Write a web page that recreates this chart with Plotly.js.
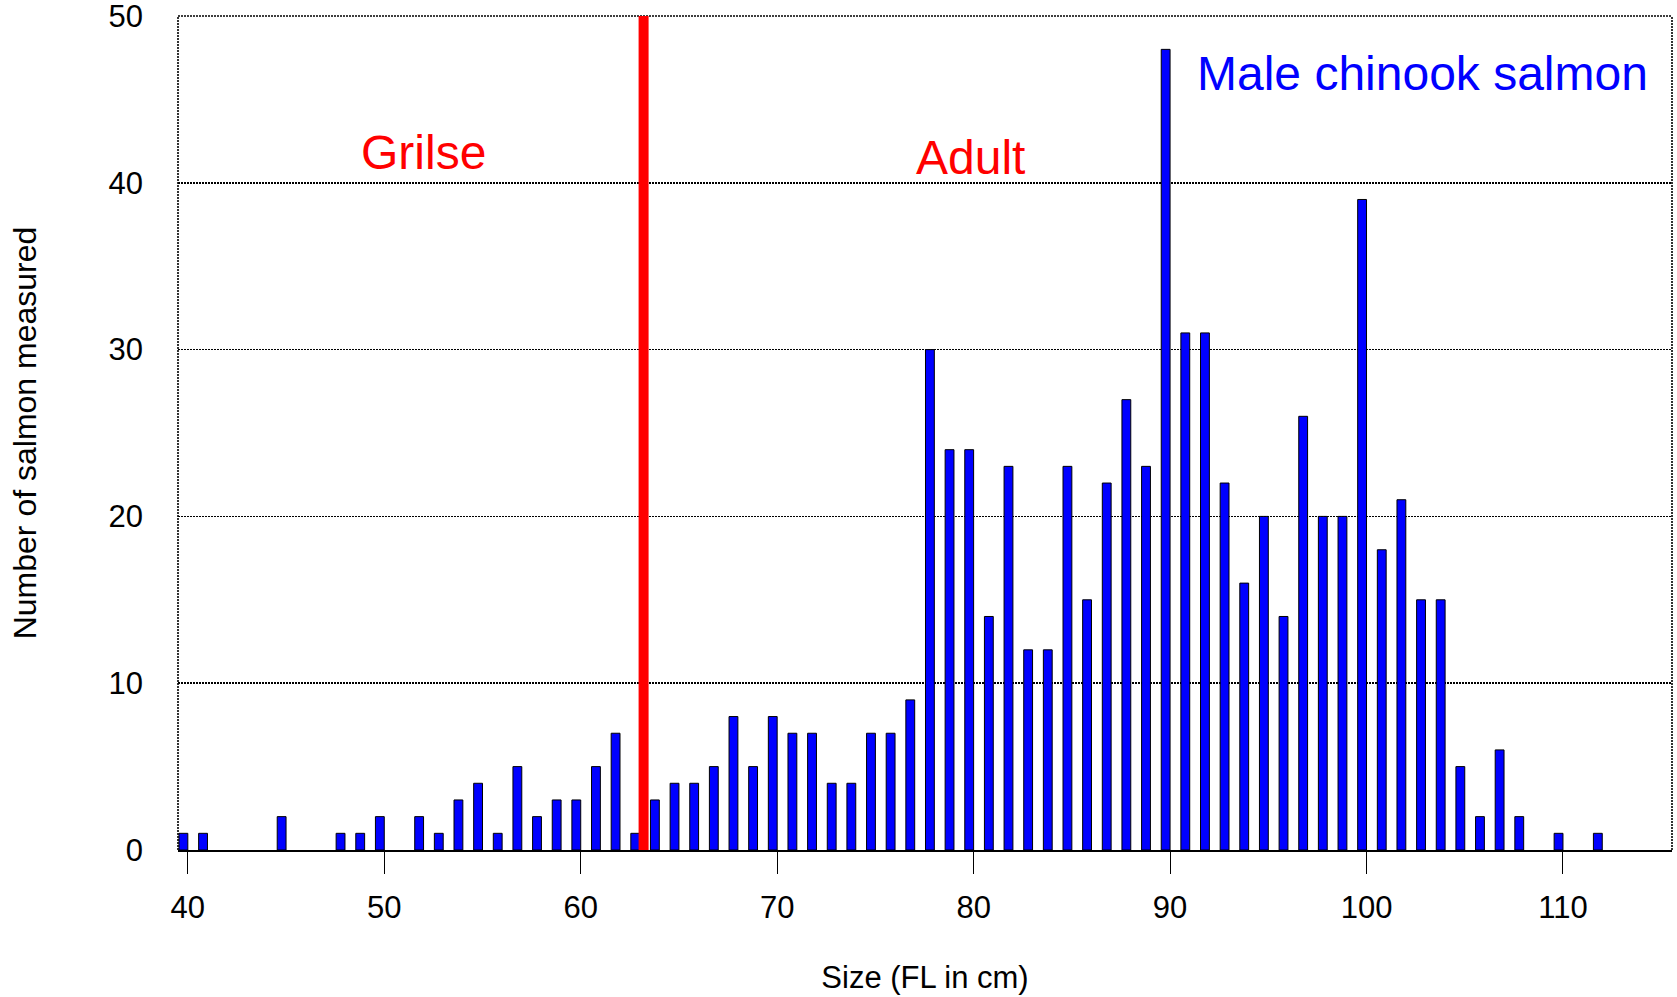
<!DOCTYPE html>
<html>
<head>
<meta charset="utf-8">
<script src="https://cdn.plot.ly/plotly-3.0.1.min.js"></script>
<style>
  html, body { margin: 0; padding: 0; background: #ffffff; }
  #chart { width: 1677px; height: 997px; }
</style>
</head>
<body>
<div id="chart"></div>
<script>
// Fork length (cm) of each size class
const sizeCm = [
  40, 41, 42, 43, 44, 45, 46, 47, 48, 49,
  50, 51, 52, 53, 54, 55, 56, 57, 58, 59,
  60, 61, 62, 63, 64, 65, 66, 67, 68, 69,
  70, 71, 72, 73, 74, 75, 76, 77, 78, 79,
  80, 81, 82, 83, 84, 85, 86, 87, 88, 89,
  90, 91, 92, 93, 94, 95, 96, 97, 98, 99,
  100, 101, 102, 103, 104, 105, 106, 107, 108, 109,
  110, 111, 112
];

// Number of male chinook salmon measured in each size class
const salmonCount = [
  1, 1, 0, 0, 0, 2, 0, 0, 1, 1,
  2, 0, 2, 1, 3, 4, 1, 5, 2, 3,
  3, 5, 7, 1, 3, 4, 4, 5, 8, 5,
  8, 7, 7, 4, 4, 7, 7, 9, 30, 24,
  24, 14, 23, 12, 12, 23, 15, 22, 27, 23,
  48, 31, 31, 22, 16, 20, 14, 26, 20, 20,
  39, 18, 21, 15, 15, 5, 2, 6, 2, 0,
  1, 0, 1
];

// Size that separates grilse from adults
const grilseCutoff = 63.2;

const xTicks = [40, 50, 60, 70, 80, 90, 100, 110];
const yTicks = [0, 10, 20, 30, 40, 50];

const FONT = "Liberation Sans, Arial, Helvetica, sans-serif";

// empty size classes get no bar at all
const nonEmpty = salmonCount.map((c, i) => i).filter(i => salmonCount[i] > 0);

const trace = {
  type: "bar",
  x: nonEmpty.map(i => sizeCm[i]),
  y: nonEmpty.map(i => salmonCount[i]),
  width: 0.45,
  offset: -0.45,
  marker: { color: "#0000ff", line: { color: "#000000", width: 1 } },
  hoverinfo: "x+y"
};

const layout = {
  width: 1677,
  height: 997,
  margin: { l: 178, r: 5, t: 16, b: 147 },
  paper_bgcolor: "#ffffff",
  plot_bgcolor: "#ffffff",
  showlegend: false,
  font: { family: FONT, color: "#000000" },
  bargap: 0,
  xaxis: {
    range: [39.5, 115.55],
    tickvals: xTicks,
    ticktext: xTicks.map(String),
    ticks: "outside",
    ticklen: 22,
    tickwidth: 1,
    tickcolor: "#000000",
    ticklabelstandoff: 7,
    ticklabeloverflow: "allow",
    tickfont: { size: 31, family: FONT, color: "#000000" },
    showgrid: false,
    zeroline: false,
    showline: true,
    linecolor: "#000000",
    linewidth: 2,
    title: { text: "Size (FL in cm)", font: { size: 31, family: FONT, color: "#000000" }, standoff: 42 },
    fixedrange: true
  },
  yaxis: {
    range: [0, 50],
    tickvals: yTicks,
    ticktext: yTicks.map(String),
    ticks: "",
    ticklabelstandoff: 34,
    ticklabeloverflow: "allow",
    tickfont: { size: 31, family: FONT, color: "#000000" },
    showgrid: true,
    gridcolor: "#000000",
    gridwidth: 1.6,
    griddash: "2px,1px",
    zeroline: false,
    showline: false,
    title: { text: "Number of salmon measured", font: { size: 32, family: FONT, color: "#000000" }, standoff: 62 },
    fixedrange: true
  },
  shapes: [
    // dotted frame: left, top, right
    { type: "line", xref: "paper", yref: "paper", x0: 0, x1: 0, y0: 0, y1: 1,
      line: { color: "#000000", width: 1.6, dash: "2px,1px" } },
    { type: "line", xref: "paper", yref: "paper", x0: 0, x1: 1, y0: 1, y1: 1,
      line: { color: "#000000", width: 1.6, dash: "2px,1px" } },
    { type: "line", xref: "paper", yref: "paper", x0: 1, x1: 1, y0: 0, y1: 1,
      line: { color: "#000000", width: 1.6, dash: "2px,1px" } },
    // grilse / adult divider
    { type: "line", xref: "x", yref: "paper", x0: grilseCutoff, x1: grilseCutoff, y0: 0, y1: 1,
      line: { color: "#ff0000", width: 10 } }
  ],
  annotations: [
    { text: "Grilse", xref: "x", yref: "y", x: 52.0, y: 41.8, showarrow: false,
      xanchor: "center", yanchor: "middle", font: { size: 48, family: FONT, color: "#ff0000" } },
    { text: "Adult", xref: "x", yref: "y", x: 79.82, y: 41.5, showarrow: false,
      xanchor: "center", yanchor: "middle", font: { size: 48, family: FONT, color: "#ff0000" } },
    { text: "Male chinook salmon", xref: "x", yref: "y", x: 102.85, y: 46.55, showarrow: false,
      xanchor: "center", yanchor: "middle", font: { size: 48, family: FONT, color: "#0000ff" } }
  ]
};

Plotly.newPlot("chart", [trace], layout, { displayModeBar: false, staticPlot: true });
</script>
</body>
</html>
